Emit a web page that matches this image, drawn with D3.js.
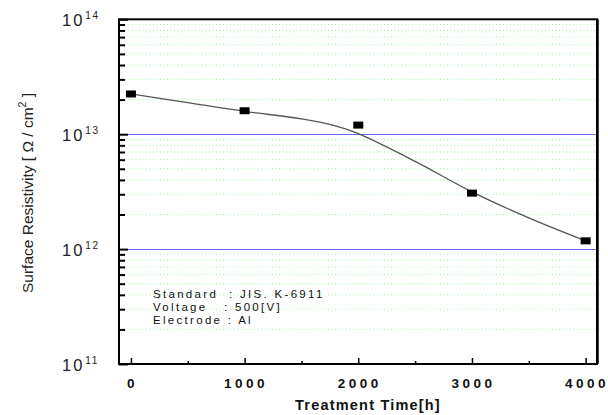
<!DOCTYPE html>
<html><head><meta charset="utf-8">
<script src="https://cdn.jsdelivr.net/npm/d3@7"></script>
<style>body{margin:0;background:#fff}svg{display:block}text{font-family:Arial,"Liberation Sans",sans-serif}</style>
</head><body>
<svg id="c" width="608" height="415"></svg>
<script>
const times = [0, 1000, 2000, 3000, 4000];
const resistivity = [2.24e13, 1.60e13, 1.20e13, 3.07e12, 1.18e12];
const fitTimes = [0, 500, 1000, 1500, 1800, 2000, 2500, 3000, 3500, 4000];
const fitValues = [2.24e13, 1.88e13, 1.58e13, 1.36e13, 1.18e13, 1.01e13, 5.8e12, 3.15e12, 1.87e12, 1.18e12];
const xTicks = [0, 1000, 2000, 3000, 4000];
const xMinor = [500, 1500, 2500, 3500];
const yExp = [11, 12, 13, 14];
const refLines = [1e12, 1e13];
const notes = ["Standard  : JIS. K-6911", "Voltage   : 500[V]", "Electrode : Al"];

const svg = d3.select("#c");
const L = 119, R = 597, T = 19.3, B = 364;
const x = d3.scaleLinear().domain([-105, 4100]).range([L, R]);
const y = d3.scaleLog().domain([1e11, 1e14]).range([B, T]);

// minor grid lines
const minorVals = [];
for (let e = 11; e < 14; e++) for (let m = 2; m <= 9; m++) minorVals.push(m * Math.pow(10, e));
svg.append("g").selectAll("line").data(minorVals).join("line")
  .attr("x1", L + 6).attr("x2", R - 2)
  .attr("y1", d => y(d)).attr("y2", d => y(d))
  .attr("stroke", "#9ef29e").attr("stroke-width", 1).attr("stroke-dasharray", "1,2.5");

// reference lines
svg.append("g").selectAll("line").data(refLines).join("line")
  .attr("x1", L).attr("x2", R)
  .attr("y1", d => Math.round(y(d)) + 0.5).attr("y2", d => Math.round(y(d)) + 0.5)
  .attr("stroke", "#6b6bf0").attr("stroke-width", 1.2);

// left axis ticks
const yAxis = d3.axisRight(y).tickValues(yExp.map(e => Math.pow(10, e))).tickSize(9).tickFormat("");
const gy = svg.append("g").attr("transform", `translate(${L},0)`).call(yAxis);
gy.select(".domain").remove();
gy.selectAll("line").attr("stroke", "#000").attr("stroke-width", 2);
const yAxisMinor = d3.axisRight(y).tickValues(minorVals).tickSize(6).tickFormat("");
const gym = svg.append("g").attr("transform", `translate(${L},0)`).call(yAxisMinor);
gym.select(".domain").remove();
gym.selectAll("line").attr("stroke", "#000").attr("stroke-width", 2);

// y labels
const yl = svg.append("g").selectAll("text").data(yExp).join("text")
  .attr("x", 62).attr("y", d => y(Math.pow(10, d)) + 6.5)
  .attr("font-size", 16.5).attr("fill", "#222").attr("letter-spacing", 2);
yl.append("tspan").text("10");
yl.append("tspan").attr("dx", 1).attr("dy", -7).attr("font-size", 10).attr("letter-spacing", 1.5).text(d => d);

// bottom axis ticks
const xAxis = d3.axisTop(x).tickValues(xTicks).tickSize(6).tickFormat("");
const gx = svg.append("g").attr("transform", `translate(0,${B})`).call(xAxis);
gx.select(".domain").remove();
gx.selectAll("line").attr("stroke", "#000").attr("stroke-width", 1.5);
const xAxisMinor = d3.axisTop(x).tickValues(xMinor).tickSize(3).tickFormat("");
const gxm = svg.append("g").attr("transform", `translate(0,${B})`).call(xAxisMinor);
gxm.select(".domain").remove();
gxm.selectAll("line").attr("stroke", "#000").attr("stroke-width", 1.5);

svg.append("g").selectAll("text").data(xTicks).join("text")
  .attr("x", d => x(d) + 1.5).attr("y", 387.5)
  .attr("text-anchor", "middle").attr("font-size", 13.5).attr("font-weight", "bold")
  .attr("letter-spacing", 3.5).attr("fill", "#111").text(d => d);

svg.append("text").attr("x", 368).attr("y", 410)
  .attr("text-anchor", "middle").attr("font-size", 14.5).attr("font-weight", "bold")
  .attr("letter-spacing", 1.2).attr("fill", "#111").text("Treatment Time[h]");

// y title
const yt = svg.append("text").attr("transform", `translate(33,193) rotate(-90)`)
  .attr("text-anchor", "middle").attr("font-size", 15.5).attr("fill", "#222");
yt.append("tspan").text("Surface Resistivity [ Ω / cm");
yt.append("tspan").attr("dy", -7).attr("font-size", 10.5).text("2");
yt.append("tspan").attr("dy", 7).text(" ]");

// fit curve
const line = d3.line().x((d, i) => x(fitTimes[i])).y(d => y(d)).curve(d3.curveCatmullRom);
svg.append("path").datum(fitValues).attr("d", line)
  .attr("fill", "none").attr("stroke", "#555").attr("stroke-width", 1.3);

// data markers
svg.append("g").selectAll("rect").data(resistivity).join("rect")
  .attr("x", (d, i) => x(times[i]) - 5).attr("y", d => y(d) - 3.5)
  .attr("width", 10).attr("height", 7).attr("fill", "#000");

// annotation
svg.append("g").selectAll("text").data(notes).join("text")
  .attr("x", 153).attr("y", (d, i) => 297.5 + i * 13)
  .attr("font-size", 11.5).attr("letter-spacing", 2.3).attr("fill", "#111")
  .style("white-space", "pre").text(d => d);

// frame
svg.append("rect").attr("x", L).attr("y", T).attr("width", R - L).attr("height", B - T)
  .attr("fill", "none").attr("stroke", "#000").attr("stroke-width", 2);
svg.append("line").attr("x1", R + 1).attr("x2", R + 1).attr("y1", T).attr("y2", B)
  .attr("stroke", "#000").attr("stroke-width", 1.5);
</script>
</body></html>
